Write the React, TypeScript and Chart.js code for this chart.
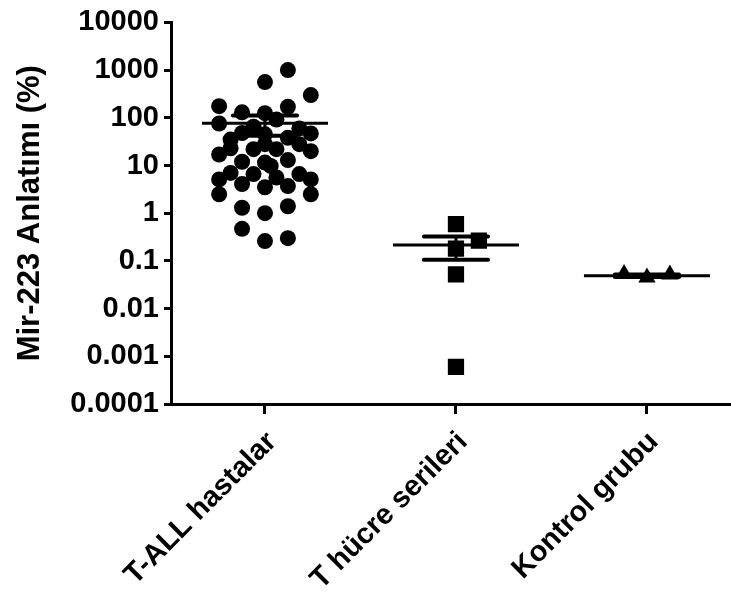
import React, { useEffect, useRef } from "react";
import { Chart, registerables } from "chart.js";

Chart.register(...registerables);

const categories = ["T-ALL hastalar", "T hücre serileri", "Kontrol grubu"];
const yTickValues = [0.0001, 0.001, 0.01, 0.1, 1, 10, 100, 1000, 10000];
const yTickLabels = ["0.0001", "0.001", "0.01", "0.1", "1", "10", "100", "1000", "10000"];
const yAxisTitle = "Mir-223 Anlatımı (%)";

// T-ALL hastalar: values and jitter column (steps left/right of the category centre)
const tallValues = [
  1000, 560, 300, 175, 170, 130, 125, 92, 76, 65, 60,
  48, 47, 45, 38, 35,
  17, 23, 22, 28, 22, 28, 20,
  12, 11.5, 9.8, 13,
  5.1, 7, 6.6, 5.6, 6.6, 5.1,
  4.1, 3.5, 3.7,
  2.5, 2.5,
  1.3, 1.0, 1.4,
  0.47, 0.26, 0.3,
];
const tallJitter = [
  2, 0, 4, -4, 2, -2, 0, 1, -4, -1, 3,
  -2, 4, 0, 2, -3,
  -4, -3, -1, 0, 1, 3, 4,
  -2, 0, 0.5, 2,
  -4, -3, -1, 1, 3, 4,
  -2, 0, 2,
  -4, 4,
  -2, 0, 2,
  -2, 0, 2,
];
const tcellValues = [0.59, 0.265, 0.18, 0.052, 0.0006];
const tcellJitter = [0, 2, 0, 0, 0];
const controlValues = [0.053, 0.045, 0.052];
const controlJitter = [-2, 0, 2];

const groupMeans = [77, 0.216, 0.049];
const groupSem = [35, 0.11, 0.003];

const JITTER_STEP = 0.06;
const FONT = "'Liberation Sans', Arial, Helvetica, sans-serif";

const toPoints = (vals: number[], jit: number[], group: number) =>
  vals.map((v, i) => ({ x: group + jit[i] * JITTER_STEP, y: v }));

const meanSemPlugin = {
  id: "meanSem",
  afterDatasetsDraw(chart: any) {
    const { ctx, scales } = chart;
    const x = scales.x;
    const y = scales.y;
    ctx.save();
    ctx.strokeStyle = "#000";
    groupMeans.forEach((m, i) => {
      const cx = x.getPixelForValue(i);
      const hw = x.getPixelForValue(i + 0.33) - cx;
      const cw = x.getPixelForValue(i + 0.168) - cx;
      const ym = y.getPixelForValue(m);
      const yu = y.getPixelForValue(m + groupSem[i]);
      const yl = y.getPixelForValue(m - groupSem[i]);
      ctx.lineCap = "butt";
      ctx.lineWidth = 3;
      ctx.beginPath();
      ctx.moveTo(cx - hw, ym);
      ctx.lineTo(cx + hw, ym);
      ctx.moveTo(cx, yu);
      ctx.lineTo(cx, yl);
      ctx.stroke();
      ctx.lineCap = "round";
      ctx.lineWidth = 4;
      ctx.beginPath();
      ctx.moveTo(cx - cw, yu);
      ctx.lineTo(cx + cw, yu);
      ctx.moveTo(cx - cw, yl);
      ctx.lineTo(cx + cw, yl);
      ctx.stroke();
    });
    ctx.restore();
  },
};

export default function App() {
  const canvasRef = useRef<HTMLCanvasElement | null>(null);

  useEffect(() => {
    if (!canvasRef.current) return;
    const chart = new Chart(canvasRef.current, {
      type: "scatter",
      data: {
        datasets: [
          {
            label: categories[0],
            data: toPoints(tallValues, tallJitter, 0),
            pointStyle: "circle",
            pointRadius: 8,
            backgroundColor: "#000",
            borderWidth: 0,
          },
          {
            label: categories[1],
            data: toPoints(tcellValues, tcellJitter, 1),
            pointStyle: "rect",
            pointRadius: 11.5,
            backgroundColor: "#000",
            borderWidth: 0,
          },
          {
            label: categories[2],
            data: toPoints(controlValues, controlJitter, 2),
            pointStyle: "triangle",
            pointRadius: 10,
            backgroundColor: "#000",
            borderWidth: 0,
          },
        ],
      },
      options: {
        animation: false,
        responsive: true,
        maintainAspectRatio: false,
        layout: { autoPadding: false, padding: { top: 21, right: 0, left: 0, bottom: 0 } },
        plugins: {
          legend: { display: false },
          tooltip: { enabled: false },
        },
        scales: {
          x: {
            type: "linear",
            min: -0.492,
            max: 2.44,
            afterBuildTicks: (scale: any) => {
              scale.ticks = categories.map((_, i) => ({ value: i }));
            },
            afterFit: (scale: any) => {
              scale.height = 188;
              scale.paddingLeft = 0;
              scale.paddingRight = 0;
            },
            ticks: {
              autoSkip: false,
              maxRotation: 45,
              minRotation: 45,
              padding: 11,
              labelOffset: 7,
              color: "#000",
              font: { family: FONT, size: 29, weight: "bold" },
              callback: (v: any) => categories[Math.round(Number(v))],
            },
            grid: {
              display: true,
              drawOnChartArea: false,
              drawTicks: true,
              tickLength: 10,
              lineWidth: 3,
              color: "#000",
            },
            border: { display: true, width: 3, color: "#000" },
          },
          y: {
            type: "logarithmic",
            min: 0.0001,
            max: 10000,
            afterBuildTicks: (scale: any) => {
              scale.ticks = yTickValues.map((v) => ({ value: v, major: false }));
            },
            afterFit: (scale: any) => {
              scale.width = 171;
            },
            ticks: {
              autoSkip: false,
              padding: 5,
              color: "#000",
              font: { family: FONT, size: 29, weight: "bold" },
              callback: (v: any, idx: number) => yTickLabels[idx],
            },
            grid: {
              display: true,
              drawOnChartArea: false,
              drawTicks: true,
              tickLength: 7,
              lineWidth: 3,
              color: "#000",
            },
            border: { display: true, width: 3, color: "#000" },
            title: {
              display: true,
              text: yAxisTitle,
              color: "#000",
              font: { family: FONT, size: 31, weight: "bold" },
              padding: { top: 12, bottom: 0 },
            },
          },
        },
      },
      plugins: [meanSemPlugin],
    });
    return () => chart.destroy();
  }, []);

  return (
    <div style={{ position: "absolute", left: 0, top: 0, width: 731, height: 592 }}>
      <canvas ref={canvasRef} style={{ display: "block" }} />
    </div>
  );
}
